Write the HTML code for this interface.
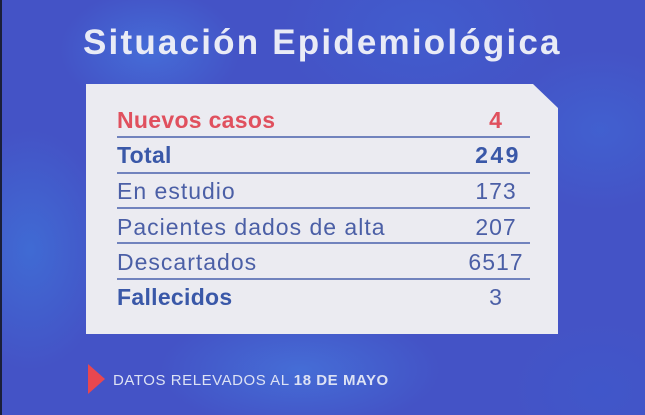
<!DOCTYPE html>
<html><head><meta charset="utf-8"><style>
html,body{margin:0;padding:0}
body{width:645px;height:415px;overflow:hidden;position:relative;font-family:"Liberation Sans",sans-serif;
background:
radial-gradient(ellipse 90px 60px at 150px 50px, rgba(70,130,230,.55), transparent),
radial-gradient(ellipse 80px 120px at 30px 250px, rgba(60,130,225,.5), transparent),
radial-gradient(ellipse 140px 60px at 300px 370px, rgba(70,135,230,.5), transparent),
radial-gradient(ellipse 100px 80px at 600px 130px, rgba(60,120,225,.35), transparent),
radial-gradient(ellipse 140px 90px at 420px 30px, rgba(60,110,220,.35), transparent),
radial-gradient(ellipse 90px 70px at 600px 390px, rgba(55,95,210,.3), transparent),
#4453c6;}
.edge{position:absolute;left:0;top:0;width:2px;height:415px;background:#1a1f3a}
.title{position:absolute;left:83px;top:23px;font-size:35px;line-height:40px;font-weight:bold;color:#e9ebf6;letter-spacing:2.2px;white-space:nowrap}
.card{position:absolute;left:86px;top:84px;width:472px;height:250px;background:#ebebf1;
clip-path:polygon(0 0,447px 0,472px 24px,472px 250px,0 250px)}
.line{position:absolute;left:117px;width:413px;height:2px;background:#7183bd}
.lab{position:absolute;left:117px;font-size:23px;line-height:26px;color:#4b5fa6;letter-spacing:1px;white-space:nowrap}
.num{position:absolute;left:446px;width:100px;text-align:center;font-size:23px;line-height:26px;color:#4b5fa6;letter-spacing:1px;white-space:nowrap}
.b{font-weight:bold;color:#3a58a8}
.r{font-weight:bold;color:#e0505e}
.tri{position:absolute;left:88px;top:364px;width:0;height:0;border-top:15px solid transparent;border-bottom:15px solid transparent;border-left:17px solid #e8474f}
.foot{position:absolute;left:113px;top:372px;font-size:15px;line-height:17px;color:#dde2f4;letter-spacing:.55px;white-space:nowrap}
</style></head><body>
<div class="edge"></div>
<div class="title">Situación Epidemiológica</div>
<div class="card"></div>

<div class="lab r" style="top:107px;letter-spacing:.3px">Nuevos casos</div>
<div class="num r" style="top:107px">4</div>
<div class="line" style="top:136px"></div>

<div class="lab b" style="top:142px;letter-spacing:.3px">Total</div>
<div class="num b" style="top:142px;letter-spacing:2.5px;padding-left:2px">249</div>
<div class="line" style="top:172px"></div>

<div class="lab" style="top:178px">En estudio</div>
<div class="num" style="top:178px">173</div>
<div class="line" style="top:207px"></div>

<div class="lab" style="top:214px">Pacientes dados de alta</div>
<div class="num" style="top:214px">207</div>
<div class="line" style="top:242px"></div>

<div class="lab" style="top:249px">Descartados</div>
<div class="num" style="top:249px">6517</div>
<div class="line" style="top:278px"></div>

<div class="lab b" style="top:284px;letter-spacing:.3px">Fallecidos</div>
<div class="num" style="top:284px">3</div>

<div class="tri"></div>
<div class="foot">DATOS RELEVADOS AL <b>18 DE MAYO</b></div>
</body></html>
